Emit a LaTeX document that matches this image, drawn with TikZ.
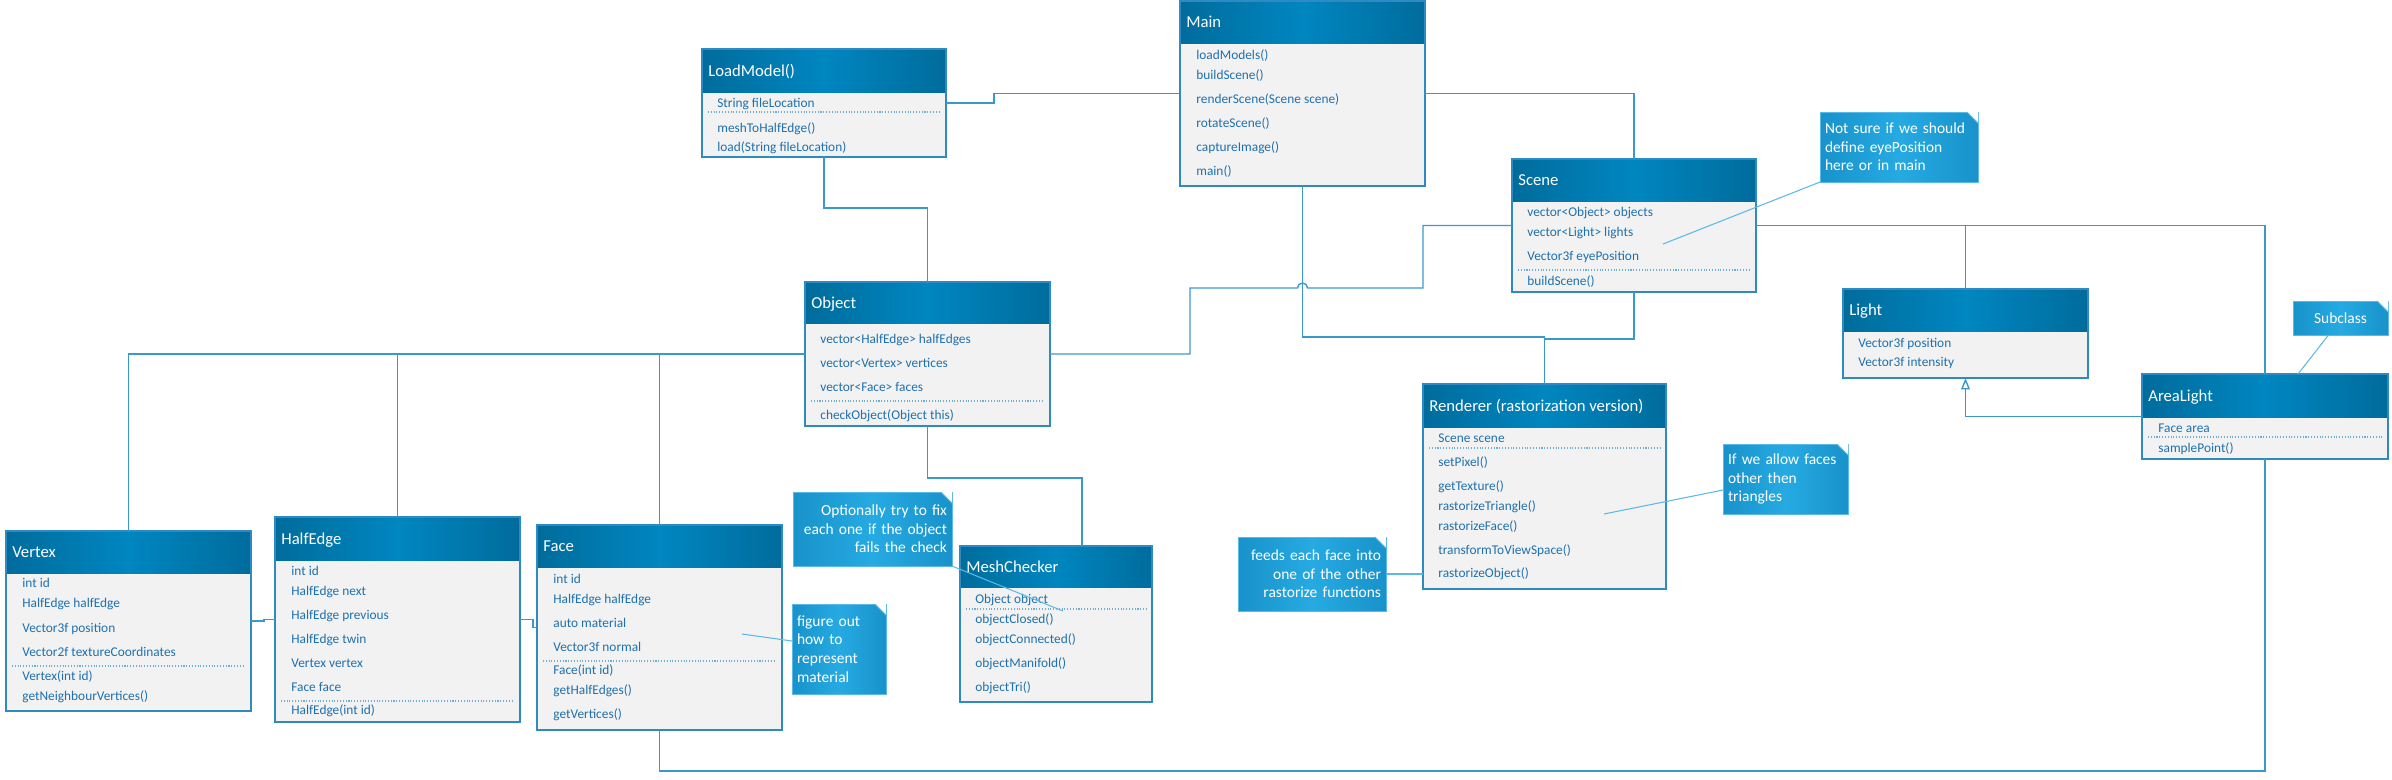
\documentclass[tikz,border=0pt]{standalone}
\usepackage{fontspec}
\setmainfont{Carlito}
\usepackage{tikz}
\usetikzlibrary{arrows.meta, calc}

\definecolor{headdark}{RGB}{0,108,156}
\definecolor{headlight}{RGB}{0,134,192}
\definecolor{bodyfill}{RGB}{242,242,242}
\definecolor{boxedge}{RGB}{46,138,192}
\definecolor{membertext}{RGB}{30,112,175}
\definecolor{sepcolor}{RGB}{110,175,210}
\definecolor{linkcolor}{RGB}{58,152,204}
\definecolor{notedark}{RGB}{24,146,202}
\definecolor{notelight}{RGB}{38,170,226}
\definecolor{noteedge}{RGB}{90,185,230}

\tikzstyle{classbox} = [rectangle, fill=bodyfill, inner sep=0pt, outer sep=0pt]
\tikzstyle{headshade} = [left color=headdark, right color=headdark,
middle color=headlight]
\tikzstyle{boxline} = [draw=boxedge, line width=0.8pt]
\tikzstyle{classtitle} = [anchor=west, inner sep=0pt, text=white,
font=\fontsize{9.5}{11}\selectfont, text height=0.68em, text depth=0pt]
\tikzstyle{member} = [anchor=west, inner sep=0pt, text=membertext,
font=\fontsize{7.6}{9}\selectfont, text height=0.56em, text depth=0pt]
\tikzstyle{sepline} = [draw=sepcolor, densely dotted, line width=0.6pt]
\tikzstyle{link} = [draw=linkcolor, line width=0.8pt]
\tikzstyle{inherit} = [link, -{Triangle[open, length=6.5pt, width=5pt]}]
\tikzstyle{note} = [rectangle, anchor=north west, left color=notedark,
right color=notedark, middle color=notelight, draw=noteedge, line width=0.5pt,
inner xsep=0.1cm, inner ysep=0pt, outer sep=0pt, text=white,
font=\fontsize{8.8}{10.6}\selectfont]
\tikzstyle{noteline} = [draw=noteedge, line width=0.6pt]

% name, x1, y1, x2, y2, header bottom, title
\newcommand{\umlclass}[7]{%
\node(#1)[classbox, anchor=north west, minimum width={(#4-#2)*0.02cm},
minimum height={(#5-#3)*0.02cm}] at (#2,#3) {};
\shade[headshade] (#2,#3) rectangle (#4,#6);
\draw[boxline] (#1.north west) rectangle (#1.south east);
\node(#1-title)[classtitle] at (#2+6,{(#3+#6)/2}) {#7};
}
\newcommand{\notefold}[1]{%
\fill[white] (#1.north east) -- ++(-11,0) -- ++(11,11) -- cycle;
\draw[noteline] ($(#1.north east)+(-11,0)$) -- ++(11,11);
}

\begin{document}
\begin{tikzpicture}[x=0.02cm, y=-0.02cm]
\useasboundingbox (0,0) rectangle (2392,779);

% classes
\umlclass{loadmodel}{702}{49}{946}{157}{92}{LoadModel()}
\foreach \yy/\txt [count=\i] in {103/String fileLocation, 128/meshToHalfEdge(),
147/load(String fileLocation)}
\node(loadmodel-m\i)[member] at (717,\yy) {\txt};
\draw[sepline] (708,112) -- (940,112);

\umlclass{main}{1180}{1}{1425}{186}{43}{Main}
\foreach \yy/\txt [count=\i] in {55/loadModels(), 75/buildScene(),
99/renderScene(Scene scene), 123/rotateScene(), 147/captureImage(), 171/main()}
\node(main-m\i)[member] at (1196,\yy) {\txt};

\umlclass{scene}{1512}{159}{1756}{292}{201}{Scene}
\foreach \yy/\txt [count=\i] in {212/vector<Object> objects,
232/vector<Light> lights, 256/Vector3f eyePosition, 281/buildScene()}
\node(scene-m\i)[member] at (1527,\yy) {\txt};
\draw[sepline] (1518,270) -- (1750,270);

\umlclass{object}{805}{282}{1050}{426}{323}{Object}
\foreach \yy/\txt [count=\i] in {339/vector<HalfEdge> halfEdges,
363/vector<Vertex> vertices, 387/vector<Face> faces, 415/checkObject(Object this)}
\node(object-m\i)[member] at (820,\yy) {\txt};
\draw[sepline] (811,401) -- (1044,401);

\umlclass{vertex}{6}{531}{251}{711}{573}{Vertex}
\foreach \yy/\txt [count=\i] in {583/int id, 603/HalfEdge halfEdge,
628/Vector3f position, 652/Vector2f textureCoordinates, 676/Vertex(int id),
696/getNeighbourVertices()}
\node(vertex-m\i)[member] at (22,\yy) {\txt};
\draw[sepline] (12,666) -- (245,666);

\umlclass{halfedge}{275}{517}{520}{722}{560}{HalfEdge}
\foreach \yy/\txt [count=\i] in {571/int id, 591/HalfEdge next,
615/HalfEdge previous, 639/HalfEdge twin, 663/Vertex vertex, 687/Face face,
710/HalfEdge(int id)}
\node(halfedge-m\i)[member] at (291,\yy) {\txt};
\draw[sepline] (281,701) -- (514,701);

\umlclass{face}{537}{525}{782}{730}{567}{Face}
\foreach \yy/\txt [count=\i] in {579/int id, 599/HalfEdge halfEdge,
623/auto material, 647/Vector3f normal, 670/Face(int id), 690/getHalfEdges(),
714/getVertices()}
\node(face-m\i)[member] at (553,\yy) {\txt};
\draw[sepline] (543,661) -- (776,661);

\umlclass{meshchecker}{960}{546}{1152}{702}{587}{MeshChecker}
\foreach \yy/\txt [count=\i] in {599/Object object, 619/objectClosed(),
639/objectConnected(), 663/objectManifold(), 687/objectTri()}
\node(meshchecker-m\i)[member] at (975,\yy) {\txt};
\draw[sepline] (966,609) -- (1146,609);

\umlclass{renderer}{1423}{384}{1666}{589}{427}{Renderer (rastorization version)}
\foreach \yy/\txt [count=\i] in {438/Scene scene, 462/setPixel(),
486/getTexture(), 506/rastorizeTriangle(), 526/rastorizeFace(),
550/transformToViewSpace(), 573/rastorizeObject()}
\node(renderer-m\i)[member] at (1438,\yy) {\txt};
\draw[sepline] (1429,448) -- (1660,448);

\umlclass{light}{1843}{289}{2088}{378}{331}{Light}
\foreach \yy/\txt [count=\i] in {343/Vector3f position, 362/Vector3f intensity}
\node(light-m\i)[member] at (1858,\yy) {\txt};

\umlclass{arealight}{2142}{374}{2388}{459}{417}{AreaLight}
\foreach \yy/\txt [count=\i] in {428/Face area, 448/samplePoint()}
\node(arealight-m\i)[member] at (2158,\yy) {\txt};
\draw[sepline] (2148,437) -- (2382,437);

% notes
\node(eyenote)[note, text width=2.96cm, minimum height=1.4cm, align=left]
at (1820,112) {Not sure if we should\\define eyePosition\\here or in main};
\node(subnote)[note, text width=1.7cm, minimum height=0.68cm, align=center]
at (2293,301) {Subclass};
\node(optnote)[note, text width=2.98cm, minimum height=1.48cm, align=right]
at (793,492) {Optionally try to fix\\each one if the object\\fails the check};
\node(matnote)[note, text width=1.68cm, minimum height=1.8cm, align=left]
at (792,604) {figure out\\how to\\represent\\material};
\node(feednote)[note, text width=2.76cm, minimum height=1.48cm, align=right]
at (1238,537) {feeds each face into\\one of the other\\rastorize functions};
\node(facesnote)[note, text width=2.3cm, minimum height=1.4cm, align=left]
at (1723,444) {If we allow faces\\other then\\triangles};
\foreach \nn in {eyenote, subnote, optnote, matnote, feednote, facesnote}
{\notefold{\nn}}

% associations
\draw[link](loadmodel.east) -- ++(48,0) |- (main.west);
\draw[link](loadmodel.south) -- ++(0,51) -| (object.north);
\draw[link](main.east) -| (scene.north);
\draw[link](main.south) -- ++(0,151) -| (renderer.north);
\draw[link](scene.south) -- ++(0,47) -| (renderer.north);
\draw[link](object.east) -- ++(140,0) -- ++(0,-66) -- ($(main.south)+(-5,102)$)
arc[start angle=180, end angle=0, radius=0.1cm] -| ($(scene.west)+(-89,0)$)
-- (scene.west);
\draw[link](object.south) -- ++(0,52) -| ($(meshchecker.north)+(26,0)$);
\draw[link](object.west) -| (vertex.north);
\draw[link](object.west) -| (halfedge.north);
\draw[link](object.west) -| (face.north);
\draw[link](vertex.east) -- ++(13,0) |- (halfedge.west);
\draw[link](halfedge.east) -- ++(13,0) |- (face.west);
\draw[link](scene.east) -| (light.north);
\draw[link](scene.east) -| (arealight.north);
\draw[link](arealight.south) -- ++(0,312) -| (face.south);
\draw[inherit](arealight.west) -| (light.south);

% note links
\coordinate(eyetip) at (1663,244);
\coordinate(opttip) at (1063,611);
\coordinate(mattip) at (742,634);
\coordinate(facestip) at (1604,514);
\draw[noteline](eyenote.south west) -- (eyetip);
\draw[noteline]($(subnote.south)+(-12,0)$) -- ($(arealight.north west)+(156,0)$);
\draw[noteline](optnote.south east) -- (opttip);
\draw[noteline]($(matnote.north west)+(0,37)$) -- (mattip);
\draw[noteline](feednote.east) -- (feednote.east -| renderer.west);
\draw[noteline]($(facesnote.north west)+(0,46)$) -- (facestip);

\end{tikzpicture}
\end{document}
